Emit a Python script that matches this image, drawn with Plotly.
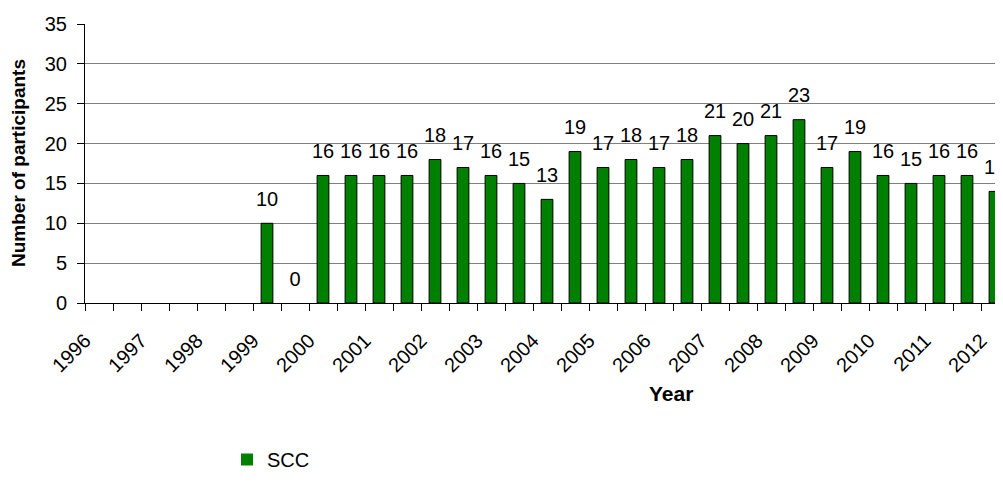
import plotly.graph_objects as go

# half-year periods, labelled once per year
year_labels = [str(y) for y in range(1996, 2013)]
participants = [None, None, None, None, None, None,
                10, 0, 16, 16, 16, 16, 18, 17, 16, 15, 13, 19, 17, 18, 17,
                18, 21, 20, 21, 23, 17, 19, 16, 15, 16, 16, 14]
periods = list(range(len(participants)))
label_text = ["" if v is None else str(v) for v in participants]

FONT = "Liberation Sans, Arial, sans-serif"

# the page body adds an 8px margin all round; keep the figure inside the window
PAGE = 8
W, H = 1003 - PAGE, 484 - 2 * PAGE
left, top, bottom = 85 - PAGE, 24 - PAGE, 303 - PAGE
plot_w = W - left
plot_h = bottom - top
cat_px = 28


def px_x(x):
    return (x - PAGE - left) / plot_w


def px_y(y):
    return (bottom - (y - PAGE)) / plot_h


fig = go.Figure()
fig.add_trace(go.Bar(
    x=periods,
    y=participants,
    name="SCC",
    width=0.42,
    marker=dict(
        color="#008000",
        line=dict(color="black", width=[0 if not v else 1 for v in participants]),
    ),
))
# data labels, pushed up by an invisible marker
fig.add_trace(go.Scatter(
    x=periods,
    y=[0 if v is None else v for v in participants],
    mode="markers+text",
    text=label_text,
    textposition="top center",
    textfont=dict(family=FONT, size=20, color="black"),
    marker=dict(size=18, color="rgba(0,0,0,0)"),
    showlegend=False,
    hoverinfo="skip",
    cliponaxis=True,
))

fig.update_layout(
    width=W,
    height=H,
    margin=dict(l=left, r=0, t=top, b=H - bottom, autoexpand=False),
    plot_bgcolor="white",
    paper_bgcolor="white",
    font=dict(family=FONT, size=20, color="black"),
    showlegend=True,
    legend=dict(
        x=px_x(227), y=px_y(H + PAGE + 3), xanchor="left", yanchor="bottom",
        font=dict(size=20), itemwidth=30, bgcolor="rgba(0,0,0,0)",
    ),
)
fig.update_xaxes(
    range=[-0.5, -0.5 + plot_w / cat_px],
    tickvals=[2 * i - 0.5 for i in range(len(year_labels))],
    ticktext=year_labels,
    tickangle=-45,
    ticks="",
    ticklabelstandoff=17,
    automargin=False,
    showline=True,
    linecolor="black",
    linewidth=1,
    showgrid=False,
    zeroline=False,
    minor=dict(
        tickvals=[i - 0.5 for i in range(2 * len(year_labels) + 1)],
        ticks="outside",
        ticklen=7,
        tickcolor="black",
        showgrid=False,
    ),
)
fig.update_yaxes(
    range=[0, 35],
    dtick=5,
    ticks="outside",
    ticklen=7,
    tickcolor="black",
    ticklabelstandoff=6,
    automargin=False,
    showline=True,
    linecolor="black",
    linewidth=1,
    showgrid=True,
    gridcolor="#808080",
    gridwidth=1,
    zeroline=False,
)
fig.add_annotation(
    text="<b>Year</b>", x=px_x(671), y=px_y(393), xref="paper", yref="paper",
    xanchor="center", yanchor="middle", showarrow=False,
    font=dict(family=FONT, size=21),
)
fig.add_annotation(
    text="<b>Number of participants</b>", x=px_x(18), y=px_y(163),
    xref="paper", yref="paper", xanchor="center", yanchor="middle",
    textangle=-90, showarrow=False, font=dict(family=FONT, size=19),
)

fig.write_html("out.html")
